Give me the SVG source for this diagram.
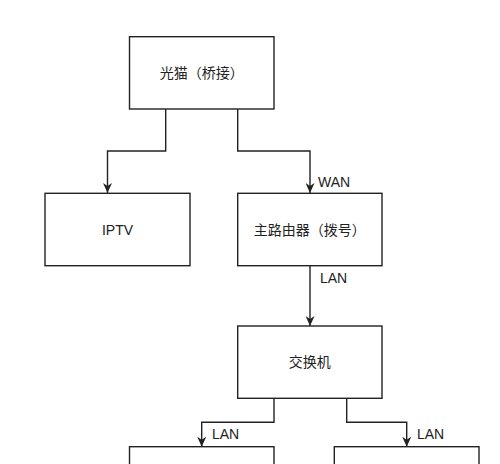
<svg xmlns="http://www.w3.org/2000/svg" width="500" height="464" viewBox="0 0 500 464">
<style>
.box{fill:#fff;stroke:#222;stroke-width:1.4}
.t{font-family:"Liberation Sans","Noto Sans CJK SC",sans-serif;font-size:14px;fill:#222;text-anchor:middle;dominant-baseline:central}
.l{font-family:"Liberation Sans","Noto Sans CJK SC",sans-serif;font-size:14px;fill:#222;dominant-baseline:central}
.e{fill:none;stroke:#222;stroke-width:1.4}
</style>
<defs>
<marker id="arr" viewBox="0 0 10 10" refX="10" refY="5" markerWidth="10" markerHeight="9" markerUnits="userSpaceOnUse" orient="auto" preserveAspectRatio="none">
<path d="M0,0 L10,5 L0,10 L3,5 Z" fill="#222"/>
</marker>
</defs>
<rect width="500" height="464" fill="#fff"/>
<g id="connectors">
<path class="e" d="M165.7,109 V151 H107.5 V193" marker-end="url(#arr)"/>
<path class="e" d="M237.7,109 V151 H310 V193" marker-end="url(#arr)"/>
<path class="e" d="M310,265.7 V326" marker-end="url(#arr)"/>
<path class="e" d="M274,398.3 V422.3 H201.7 V446.7" marker-end="url(#arr)"/>
<path class="e" d="M346.7,398.3 V422.3 H406.7 V446.7" marker-end="url(#arr)"/>
<text class="l" x="318" y="182">WAN</text>
<text class="l" x="320" y="278">LAN</text>
<text class="l" x="212" y="434">LAN</text>
<text class="l" x="417" y="434">LAN</text>
</g>
<g id="modem">
<rect class="box" x="129.5" y="36.7" width="144.5" height="72.3"/>
<text class="t" x="201.7" y="73">光猫（桥接）</text>
</g>
<g id="iptv">
<rect class="box" x="45" y="193.3" width="145" height="72.4"/>
<text class="t" x="117.5" y="229.5">IPTV</text>
</g>
<g id="router">
<rect class="box" x="237.7" y="193.3" width="144.3" height="72.4"/>
<text class="t" x="309.8" y="229.5">主路由器（拨号）</text>
</g>
<g id="switch">
<rect class="box" x="237.7" y="326" width="144.3" height="72.3"/>
<text class="t" x="309.8" y="362">交换机</text>
</g>
<g id="device1">
<rect class="box" x="129.5" y="446.7" width="144.5" height="72.3"/>
</g>
<g id="device2">
<rect class="box" x="334.3" y="446.7" width="144.7" height="72.3"/>
</g>
</svg>
